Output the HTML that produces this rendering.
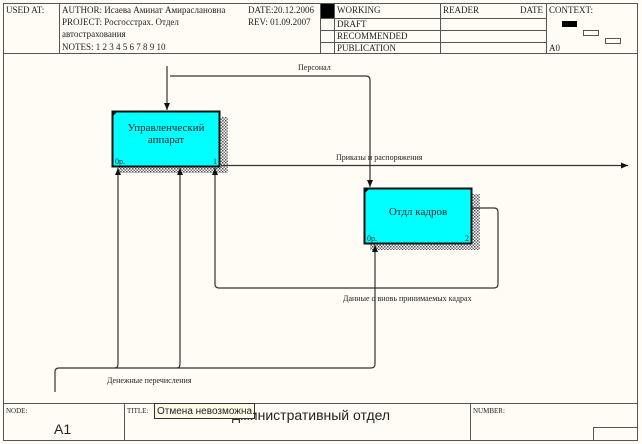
<!DOCTYPE html>
<html><head><meta charset="utf-8"><style>
body{margin:0;background:#fff;}
svg{display:block;}
text{font-family:"Liberation Serif",serif;fill:#222;}
</style></head><body>
<svg width="642" height="444" viewBox="0 0 642 444" xmlns="http://www.w3.org/2000/svg">
<defs>
<pattern id="h" width="3" height="3" patternUnits="userSpaceOnUse"><rect width="3" height="3" fill="#fff"/><rect width="1.5" height="1.5" fill="#555"/><rect x="1.5" y="1.5" width="1.5" height="1.5" fill="#777"/></pattern>
<marker id="a" markerWidth="8" markerHeight="8" refX="7" refY="4" orient="auto" markerUnits="userSpaceOnUse"><path d="M0,1 L7,4 L0,7z" fill="#111"/></marker>
</defs>
<rect x="0" y="0" width="642" height="444" fill="#fffcf5"/>
<rect x="3.5" y="3.5" width="634" height="437" fill="none" stroke="#555"/>
<!-- header -->
<g stroke="#555" fill="none">
<line x1="3" y1="53.5" x2="638" y2="53.5"/>
<line x1="59.5" y1="3" x2="59.5" y2="53"/>
<line x1="320.5" y1="3" x2="320.5" y2="53"/>
<line x1="334.5" y1="3" x2="334.5" y2="53"/>
<line x1="440.5" y1="3" x2="440.5" y2="53"/>
<line x1="546.5" y1="3" x2="546.5" y2="53"/>
<line x1="320" y1="18.5" x2="546" y2="18.5"/>
<line x1="320" y1="30.5" x2="546" y2="30.5"/>
<line x1="320" y1="42.5" x2="546" y2="42.5"/>
<rect x="583.5" y="30.5" width="15" height="5"/>
<rect x="605.5" y="38.5" width="15" height="5"/>
</g>
<rect x="321" y="4" width="13" height="14" fill="#000"/>
<rect x="562" y="21" width="15" height="6" fill="#000"/>
<g font-size="9">
<text x="6" y="13">USED AT:</text>
<text x="62" y="13">AUTHOR:  Исаева Аминат Амираслановна</text>
<text x="62" y="25">PROJECT:  Росгосстрах. Отдел</text>
<text x="62" y="37">автострахования</text>
<text x="62" y="50">NOTES:  1  2  3  4  5  6  7  8  9  10</text>
<text x="248" y="13">DATE:20.12.2006</text>
<text x="248" y="25">REV:   01.09.2007</text>
<text x="337" y="13">WORKING</text>
<text x="337" y="27">DRAFT</text>
<text x="337" y="39">RECOMMENDED</text>
<text x="337" y="51">PUBLICATION</text>
<text x="443" y="13">READER</text>
<text x="520" y="13">DATE</text>
<text x="549" y="13">CONTEXT:</text>
<text x="549" y="51">A0</text>
</g>
<!-- footer -->
<g stroke="#555" fill="none">
<line x1="3" y1="403.5" x2="638" y2="403.5"/>
<line x1="124.5" y1="403" x2="124.5" y2="440"/>
<line x1="470.5" y1="403" x2="470.5" y2="440"/>
<polyline points="593.5,440 593.5,427.5 638,427.5"/>
</g>
<text x="6" y="413" font-size="7">NODE:</text>
<text x="54" y="434" font-size="14" style="font-family:'Liberation Sans',sans-serif">A1</text>
<text x="127" y="413" font-size="7">TITLE:</text>
<text x="232" y="420" font-size="14" style="font-family:'Liberation Sans',sans-serif">дминистративный  отдел</text>
<text x="473" y="413" font-size="7">NUMBER:</text>
<rect x="154.5" y="403.5" width="100" height="15" fill="#fffbe8" stroke="#333"/>
<text x="157" y="414" font-size="10" style="font-family:'Liberation Sans',sans-serif">Отмена невозможна.</text>
<!-- boxes -->
<rect x="220" y="117" width="8" height="56" fill="url(#h)"/>
<rect x="118" y="167" width="110" height="6" fill="url(#h)"/>
<rect x="112.5" y="111.5" width="107" height="55" fill="#00ffff" stroke="#111" stroke-width="2"/>
<path d="M113,112 l4,0 l-4,4z" fill="#111"/>
<text x="166" y="131" font-size="11" text-anchor="middle">Управленческий</text>
<text x="166" y="143" font-size="11" text-anchor="middle">аппарат</text>
<text x="115" y="164" font-size="8">0р.</text>
<text x="213" y="164" font-size="8">1</text>
<rect x="472" y="194" width="8" height="56" fill="url(#h)"/>
<rect x="370" y="244" width="110" height="6" fill="url(#h)"/>
<rect x="364.5" y="188.5" width="107" height="55" fill="#00ffff" stroke="#111" stroke-width="2"/>
<path d="M365,189 l4,0 l-4,4z" fill="#111"/>
<text x="418" y="215" font-size="11" text-anchor="middle">Отдл кадров</text>
<text x="367" y="241" font-size="8">0р.</text>
<text x="465" y="241" font-size="8">2</text>
<!-- arrows -->
<g stroke="#333" fill="none" stroke-width="1.2">
<line x1="167" y1="66" x2="167" y2="110" marker-end="url(#a)"/>
<path d="M170,76 H366 Q370,76 370,80 V187" marker-end="url(#a)"/>
<line x1="221" y1="165.5" x2="628" y2="165.5" marker-end="url(#a)"/>
<path d="M472,208 H494 Q498,208 498,212 V284 Q498,288 494,288 H219 Q215,288 215,284 V168" marker-end="url(#a)"/>
<path d="M55,392 V372 Q55,368 59,368 H371 Q375,368 375,364 V245" marker-end="url(#a)"/>
<path d="M115,368 Q118,368 118,364 V168" marker-end="url(#a)"/>
<path d="M177,368 Q180,368 180,364 V168" marker-end="url(#a)"/>
</g>
<g font-size="8">
<text x="298" y="70">Персонал</text>
<text x="336" y="160">Приказы и распоряжения</text>
<text x="343" y="301">Данные о вновь принимаемых кадрах</text>
<text x="107" y="383">Денежные перечисления</text>
</g>
</svg>
</body></html>
